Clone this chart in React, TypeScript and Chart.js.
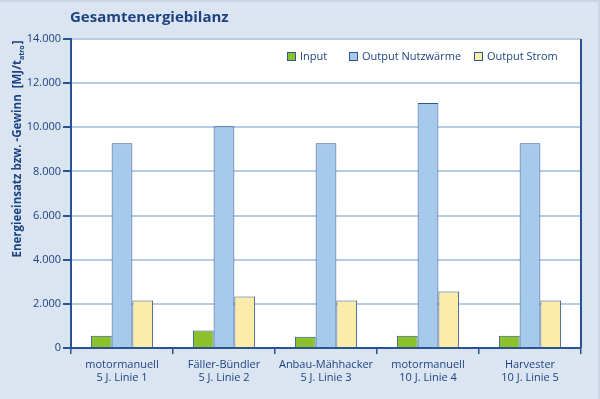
import React, { useEffect, useRef } from "react";
import { Chart, registerables } from "chart.js";

Chart.register(...registerables);

const categories: string[][] = [
  ["motormanuell", "5 J. Linie 1"],
  ["Fäller-Bündler", "5 J. Linie 2"],
  ["Anbau-Mähhacker", "5 J. Linie 3"],
  ["motormanuell", "10 J. Linie 4"],
  ["Harvester", "10 J. Linie 5"],
];
const seriesNames = ["Input", "Output Nutzwärme", "Output Strom"];
const inputValues = [550, 790, 510, 550, 560];
const nutzwaermeValues = [9280, 10050, 9280, 11100, 9280];
const stromValues = [2150, 2330, 2150, 2560, 2150];
const yTicks = [0, 2000, 4000, 6000, 8000, 10000, 12000, 14000];

const TITLE = "Gesamtenergiebilanz";
const YTITLE_MAIN = "Energieeinsatz bzw. -Gewinn  [MJ/t";
const YTITLE_SUB = "atro";
const YTITLE_END = "]";

const FONT = "'Open Sans', 'Noto Sans', sans-serif";
const NAVY = "#1d4282";
const AXIS = "#2a5391";
const GRID = "#b7cbe6";
const BG = "#dbe5f1";
const FILLS = ["#8dc12c", "#a6c9ec", "#fdeba9"];
const BORDER = "#2d5693";
const legendX = [287, 349, 474];

const fmt = (v: number) => String(v).replace(/\B(?=(\d{3})+(?!\d))/g, ".");

const decorPlugin = {
  id: "decor",
  beforeDraw(chart: any) {
    const { ctx, width, height, chartArea } = chart;
    ctx.save();
    ctx.fillStyle = BG;
    ctx.fillRect(0, 0, width, height);
    ctx.fillStyle = "#c9d6e8";
    ctx.fillRect(0, 0, width, 2);
    ctx.fillRect(width - 2, 0, 2, height);
    ctx.fillStyle = "#ffffff";
    ctx.fillRect(chartArea.left, chartArea.top, chartArea.right - chartArea.left, chartArea.bottom - chartArea.top);
    ctx.restore();
  },
  afterDraw(chart: any) {
    const { ctx, chartArea } = chart;
    ctx.save();
    // right frame line
    ctx.strokeStyle = AXIS;
    ctx.lineWidth = 2;
    ctx.beginPath();
    ctx.moveTo(chartArea.right, chartArea.top);
    ctx.lineTo(chartArea.right, chartArea.bottom);
    ctx.stroke();

    // Title
    ctx.fillStyle = NAVY;
    ctx.font = `bold 15px ${FONT}`;
    ctx.textBaseline = "middle";
    ctx.textAlign = "left";
    ctx.fillText(TITLE, 70, 18);

    // Y axis title, rotated, with subscript
    const mainFont = `bold 11.5px ${FONT}`;
    const subFont = `bold 7px ${FONT}`;
    ctx.font = mainFont;
    const w1 = ctx.measureText(YTITLE_MAIN).width;
    const w3 = ctx.measureText(YTITLE_END).width;
    ctx.font = subFont;
    const w2 = ctx.measureText(YTITLE_SUB).width;
    const total = w1 + w2 + w3 + 1;
    ctx.translate(18, 149);
    ctx.rotate(-Math.PI / 2);
    let x = -total / 2;
    ctx.textAlign = "left";
    ctx.textBaseline = "middle";
    ctx.font = mainFont;
    ctx.fillText(YTITLE_MAIN, x, 0);
    x += w1;
    ctx.font = subFont;
    ctx.fillText(YTITLE_SUB, x, 4);
    x += w2 + 1;
    ctx.font = mainFont;
    ctx.fillText(YTITLE_END, x, 0);
    ctx.setTransform(1, 0, 0, 1, 0, 0);

    // Legend
    ctx.font = `11px ${FONT}`;
    ctx.textBaseline = "middle";
    seriesNames.forEach((name, i) => {
      const bx = legendX[i];
      ctx.fillStyle = FILLS[i];
      ctx.fillRect(bx + 0.5, 52.5, 8, 8);
      ctx.strokeStyle = BORDER;
      ctx.lineWidth = 1;
      ctx.strokeRect(bx + 0.5, 52.5, 8, 8);
      ctx.fillStyle = NAVY;
      ctx.fillText(name, bx + 13, 57);
    });
    ctx.restore();
  },
};

export default function App() {
  const ref = useRef<HTMLCanvasElement>(null);
  useEffect(() => {
    if (!ref.current) return;
    const data = [inputValues, nutzwaermeValues, stromValues];
    const chart = new Chart(ref.current, {
      type: "bar",
      data: {
        labels: categories,
        datasets: seriesNames.map((n, i) => ({
          label: n,
          data: data[i],
          backgroundColor: FILLS[i],
          borderColor: BORDER,
          borderWidth: 1,
          categoryPercentage: 0.61,
          barPercentage: 1,
        })),
      },
      options: {
        animation: false,
        responsive: false,
        maintainAspectRatio: false,
        layout: { padding: { top: 39, right: 19, left: 0, bottom: 0 } },
        plugins: { legend: { display: false }, tooltip: { enabled: false }, title: { display: false } },
        scales: {
          x: {
            offset: true,
            grid: { display: true, drawOnChartArea: false, drawTicks: true, tickLength: 6, offset: true, tickColor: AXIS, lineWidth: 1.5 },
            border: { display: true, color: AXIS, width: 2 },
            ticks: { color: NAVY, font: { family: FONT, size: 11 }, padding: 4, maxRotation: 0, autoSkip: false },
            afterFit(s: any) { s.height = 51; },
          },
          y: {
            min: 0,
            max: 14000,
            afterBuildTicks(s: any) { s.ticks = yTicks.map((v) => ({ value: v })); },
            grid: { color: GRID, lineWidth: 2, tickLength: 8, tickColor: AXIS, drawTicks: true },
            border: { display: true, color: AXIS, width: 2 },
            ticks: { color: NAVY, font: { family: FONT, size: 11 }, padding: 2, callback: (v: any) => fmt(Number(v)) },
            afterFit(s: any) { s.width = 71; },
          },
        },
      },
      plugins: [decorPlugin],
    });
    return () => chart.destroy();
  }, []);
  return (
    <div style={{ position: "absolute", left: 0, top: 0, width: 600, height: 399 }}>
      <canvas ref={ref} width={600} height={399} style={{ display: "block", width: 600, height: 399 }} />
    </div>
  );
}
